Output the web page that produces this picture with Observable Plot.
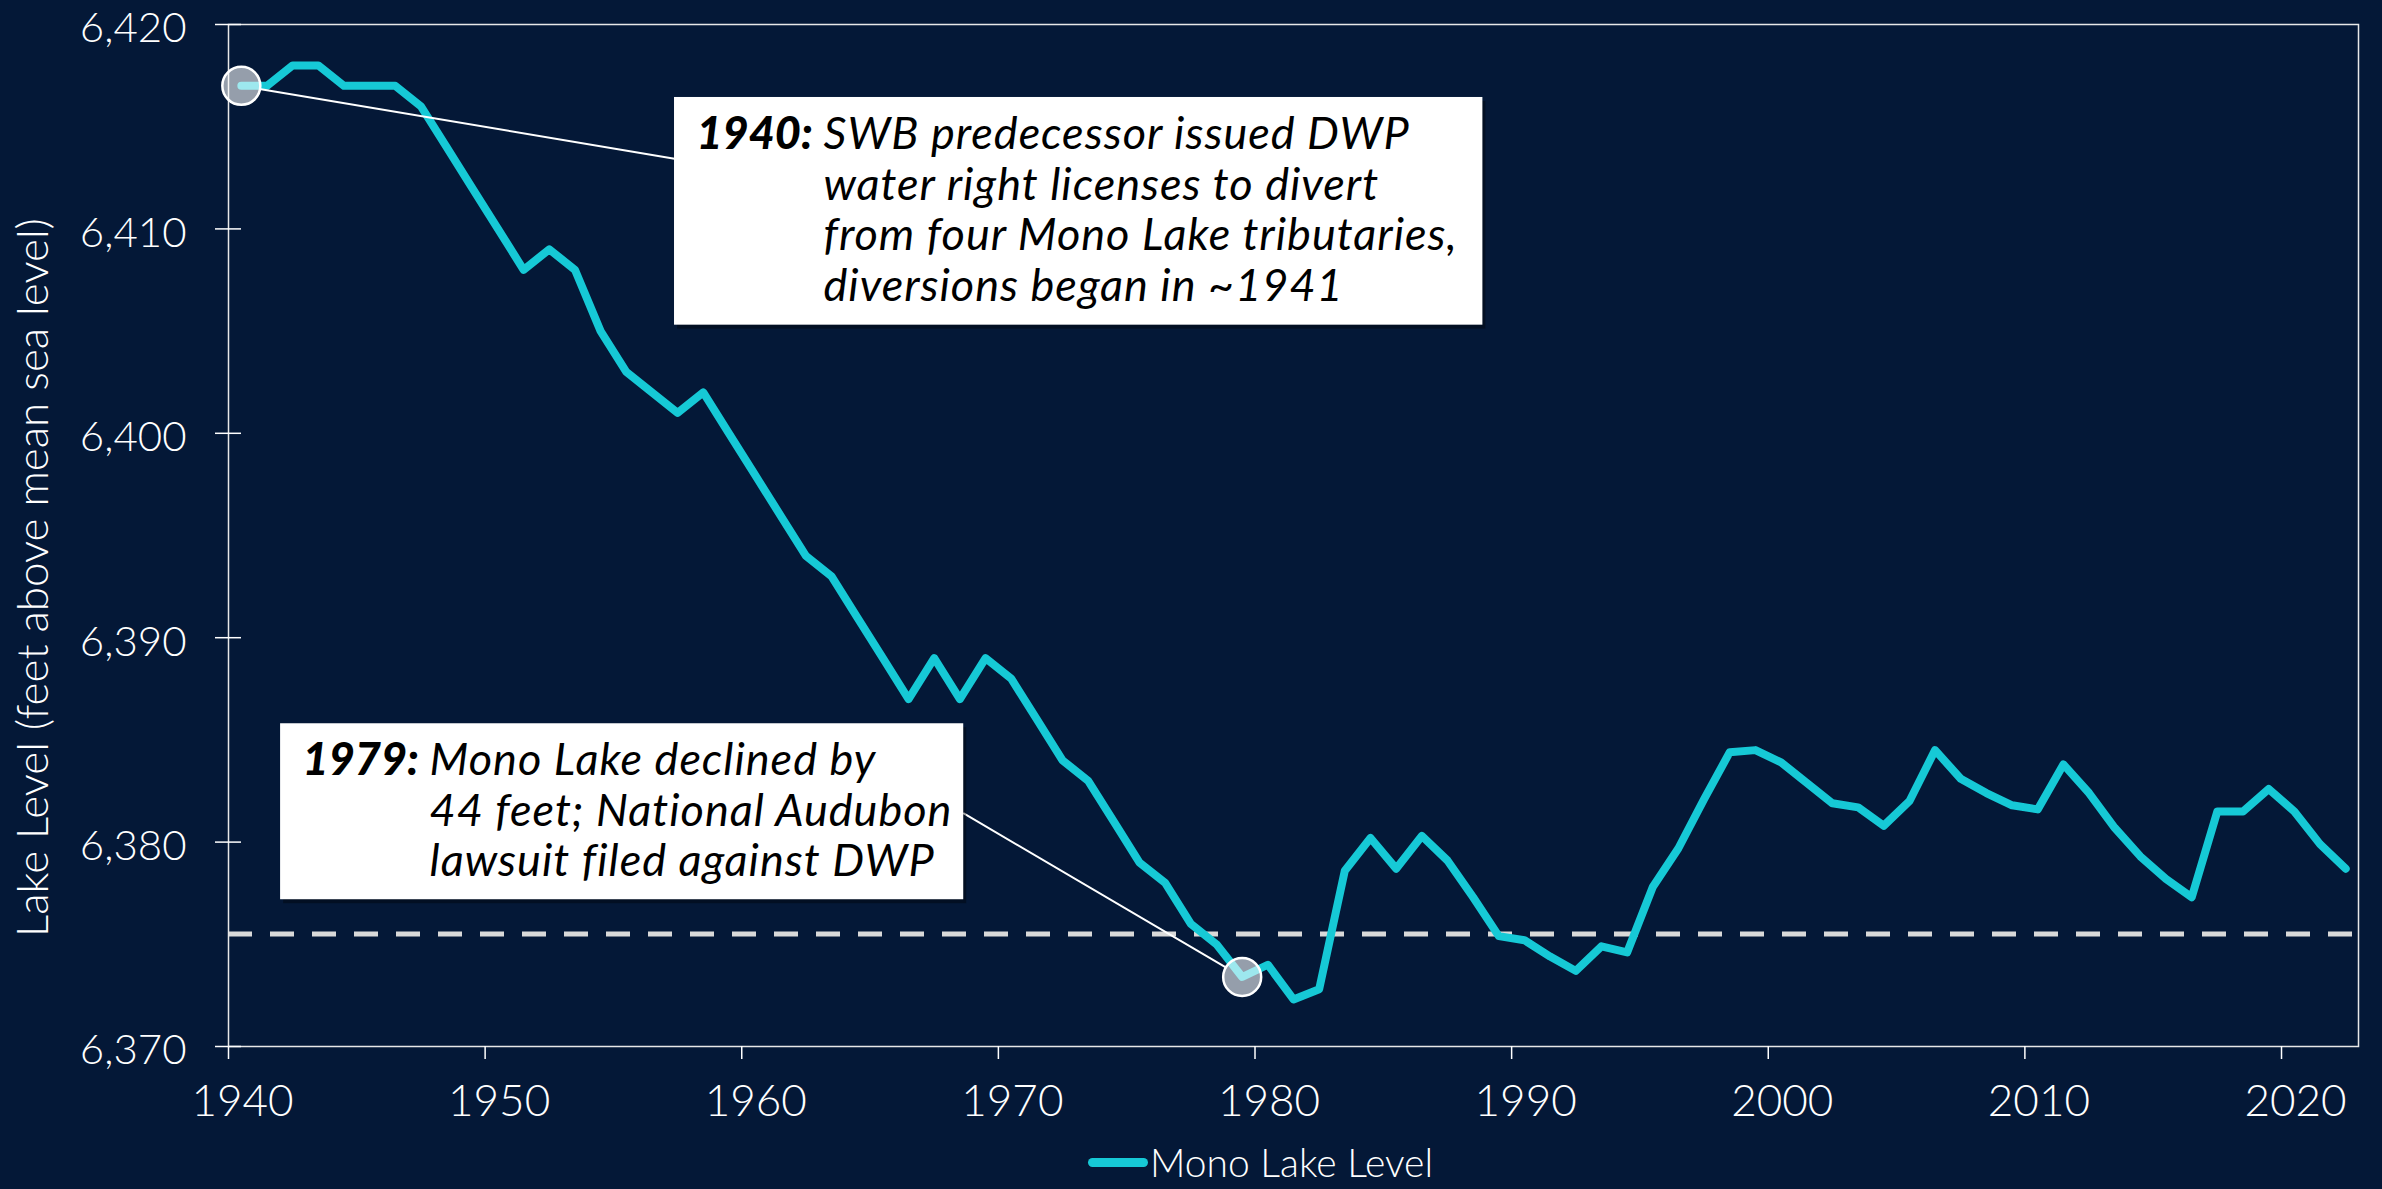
<!DOCTYPE html>
<html>
<head>
<meta charset="utf-8">
<script src="https://cdn.jsdelivr.net/npm/d3@7"></script>
<script src="https://cdn.jsdelivr.net/npm/@observablehq/plot@0.6"></script>
<style>
  html, body { margin: 0; padding: 0; background: #041837; }
  #wrap { position: relative; width: 2382px; height: 1189px; overflow: hidden; background: #041837; }
  #chart svg { display: block; margin-top: -10px; }
  #chart g[font-style="italic"] { letter-spacing: 1px; }
  #chart g[font-style="italic"][font-weight="900"] { letter-spacing: 0px; }
  #legend { position: absolute; left: 1088px; top: 1143px; display: flex; align-items: center;
            font-family: Lato, sans-serif; font-weight: 300; font-size: 39px; line-height: 39px; color: #ffffff; }
  #legend .sw { display: inline-block; width: 60px; height: 9px; border-radius: 4.5px; background: #16c9d6; margin-right: 2px; }
</style>
</head>
<body>
<div id="wrap">
  <div id="chart"></div>
  <div id="legend"><span class="sw"></span><span id="legendText"></span></div>
</div>
<script>
// ---- data ----
const years = [1940,1941,1942,1943,1944,1945,1946,1947,1948,1949,
               1950,1951,1952,1953,1954,1955,1956,1957,1958,1959,
               1960,1961,1962,1963,1964,1965,1966,1967,1968,1969,
               1970,1971,1972,1973,1974,1975,1976,1977,1978,1979,
               1980,1981,1982,1983,1984,1985,1986,1987,1988,1989,
               1990,1991,1992,1993,1994,1995,1996,1997,1998,1999,
               2000,2001,2002,2003,2004,2005,2006,2007,2008,2009,
               2010,2011,2012,2013,2014,2015,2016,2017,2018,2019,
               2020,2021,2022];
const levels = [6417.0,6417.0,6418.0,6418.0,6417.0,6417.0,6417.0,6416.0,6414.0,6412.0,
                6410.0,6408.0,6409.0,6408.0,6405.0,6403.0,6402.0,6401.0,6402.0,6400.0,
                6398.0,6396.0,6394.0,6393.0,6391.0,6389.0,6387.0,6389.0,6387.0,6389.0,
                6388.0,6386.0,6384.0,6383.0,6381.0,6379.0,6378.0,6376.0,6375.0,6373.4,
                6374.0,6372.3,6372.8,6378.6,6380.2,6378.7,6380.3,6379.1,6377.3,6375.4,
                6375.2,6374.4,6373.7,6374.9,6374.6,6377.8,6379.7,6382.1,6384.4,6384.5,
                6383.9,6382.9,6381.9,6381.7,6380.8,6382.0,6384.5,6383.1,6382.4,6381.8,
                6381.6,6383.8,6382.4,6380.7,6379.3,6378.2,6377.3,6381.5,6381.5,6382.6,
                6381.5,6379.9,6378.7];
const thresholdLevel = 6375.5;
const xTicks = [1940,1950,1960,1970,1980,1990,2000,2010,2020];
const yTicks = [6370,6380,6390,6400,6410,6420];
const yTitle = "Lake Level (feet above mean sea level)";
const seriesName = "Mono Lake Level";
const noteYears = [1940, 1979];
const noteLabels = ["1940:", "1979:"];
const noteTexts = [
  "SWB predecessor issued DWP\nwater right licenses to divert\nfrom four Mono Lake tributaries,\ndiversions began in ~1941",
  "Mono Lake declined by\n44 feet; National Audubon\nlawsuit filed against DWP"
];

// ---- build ----
const data = years.map((year, i) => ({year, level: levels[i]}));
// callout box placement (data units) — layout only
const boxLayout = [
  {bx1: 1957.38, bx2: 1988.88, by1: 6416.43, by2: 6405.29, jx: 1957.38, jy: 6413.43},
  {bx1: 1942.03, bx2: 1968.65, by1: 6385.79, by2: 6377.18, jx: 1968.65, jy: 6381.40}
];
const notes = noteYears.map((year, i) => ({
  year, level: levels[years.indexOf(year)], label: noteLabels[i], text: noteTexts[i], ...boxLayout[i]
}));
const mid = d => d.year + 0.5; // annual readings plotted mid-year

const FONT = "Lato, sans-serif";
const NOTE_FS = 45;
const NOTE_LH = 50.5 / NOTE_FS;
const chart = Plot.plot({
  width: 2382,
  height: 1140,
  marginLeft: 228,
  marginRight: 24,
  marginTop: 34,
  marginBottom: 84,
  x: {domain: [1940, 2023]},
  y: {domain: [6370, 6420]},
  style: {background: "transparent", fontFamily: FONT, color: "#ffffff", overflow: "visible"},
  marks: [
    Plot.ruleY([thresholdLevel], {stroke: "#d9d9d9", strokeWidth: 5, strokeDasharray: "24,18"}),
    Plot.lineY(data, {x: mid, y: "level", stroke: "#16c9d6", strokeWidth: 8,
                      strokeLinejoin: "round", strokeLinecap: "round"}),
    Plot.frame({stroke: "#e8e8e8", strokeWidth: 1.5}),
    // y axis: crossing ticks + labels
    Plot.axisY(yTicks, {tickSize: 26, dx: 13, fill: "none", stroke: "#ffffff", strokeWidth: 1.5, label: null}),
    Plot.axisY(yTicks, {tickSize: 0, tickPadding: 42, dy: 4.5, fontSize: 42, fontWeight: 300, fill: "#ffffff",
                        tickFormat: d3.format(","), label: null}),
    // x axis: ticks + labels
    Plot.axisX(xTicks, {tickSize: 13, fill: "none", stroke: "#ffffff", strokeWidth: 1.5, label: null}),
    Plot.axisX(xTicks, {tickSize: 0, tickPadding: 38, dx: 14, fontSize: 44, fontWeight: 300, fill: "#ffffff",
                        tickFormat: d => String(d), label: null}),
    Plot.text([yTitle], {frameAnchor: "left", rotate: -90, dx: -195, dy: 42, fontSize: 44, fontWeight: 300,
                         fill: "#ffffff", textAnchor: "middle", lineAnchor: "middle"}),
    // callouts
    Plot.arrow(notes, {x1: "jx", y1: "jy", x2: mid, y2: "level", headLength: 0, insetEnd: 20,
                       stroke: "#ffffff", strokeWidth: 2}),
    Plot.dot(notes, {x: mid, y: "level", r: 19, fill: "#ffffff", fillOpacity: 0.58,
                     stroke: "#ffffff", strokeWidth: 2.5}),
    Plot.rect(notes, {x1: "bx1", x2: "bx2", y1: "by1", y2: "by2", fill: "#000000", fillOpacity: 0.35, dx: 3, dy: 4}),
    Plot.rect(notes, {x1: "bx1", x2: "bx2", y1: "by1", y2: "by2", fill: "#ffffff"}),
    Plot.text(notes, {x: "bx1", y: "by1", text: "label", dx: 22, dy: 15.8, lineAnchor: "top", lineHeight: NOTE_LH,
                      textAnchor: "start", fontSize: NOTE_FS, fontWeight: 900, fontStyle: "italic", fill: "#000000"}),
    Plot.text(notes, {x: "bx1", y: "by1", text: "text", dx: 149, dy: 15.8, lineAnchor: "top", lineHeight: NOTE_LH,
                      textAnchor: "start", fontSize: NOTE_FS, fontWeight: 400, fontStyle: "italic", fill: "#000000"})
  ]
});
document.getElementById("chart").appendChild(chart);
document.getElementById("legendText").textContent = seriesName;
</script>
</body>
</html>
